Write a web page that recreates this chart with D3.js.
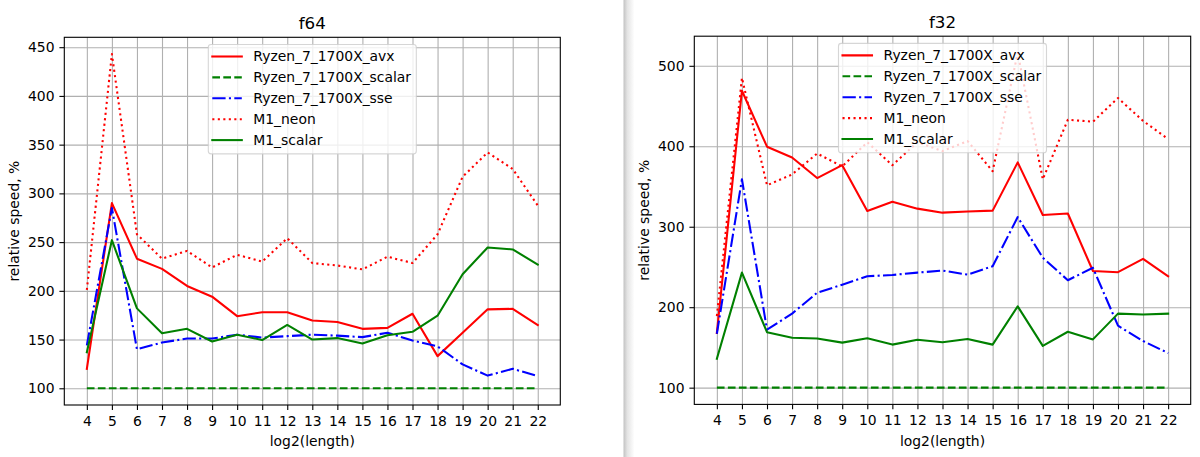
<!DOCTYPE html>
<html>
<head>
<meta charset="utf-8">
<script src="https://cdn.jsdelivr.net/npm/d3@7"></script>
<style>
body { margin: 0; background: #fff; }
svg text { font-family: "DejaVu Sans", sans-serif; fill: #000; }
</style>
</head>
<body>
<svg id="chart" width="1200" height="457"></svg>
<script>
// x values: log2 of the transform length
var lengths = [4, 5, 6, 7, 8, 9, 10, 11, 12, 13, 14, 15, 16, 17, 18, 19, 20, 21, 22];
var seriesNames = ["Ryzen_7_1700X_avx", "Ryzen_7_1700X_scalar", "Ryzen_7_1700X_sse", "M1_neon", "M1_scalar"];

// f64, relative speed %
var f64_avx    = [120, 290, 233, 222.5, 205, 194, 174, 178, 178, 169.5, 168, 161, 162, 176.5, 133, 157, 181, 181.5, 165];
var f64_scalar = [100, 100, 100, 100, 100, 100, 100, 100, 100, 100, 100, 100, 100, 100, 100, 100, 100, 100, 100];
var f64_sse    = [144, 285, 140, 147, 151, 151, 155, 152, 153.5, 155, 154, 152.5, 157, 149, 143, 124.5, 113, 120, 112.5];
var f64_neon   = [201, 443, 258, 233, 241, 224, 237, 230, 254, 228.5, 226, 222, 235, 228.5, 258, 317, 342, 325, 287.5];
var f64_m1     = [137, 252, 182, 156.5, 161, 148, 155, 149.5, 165, 150, 151.5, 146, 154.5, 158, 174.5, 217, 244.5, 242.5, 227];

// f32, relative speed %
var f32_avx    = [168, 469, 399.5, 386, 360.5, 376.5, 319.5, 331, 322.5, 317.5, 319, 320, 380, 314.5, 316.5, 245, 243.5, 260, 238.5];
var f32_scalar = [100, 100, 100, 100, 100, 100, 100, 100, 100, 100, 100, 100, 100, 100, 100, 100, 100, 100, 100];
var f32_sse    = [167, 359, 172, 192, 218, 228, 238.5, 240, 243, 245.5, 240.5, 251, 312, 261.5, 233.5, 249, 177, 158, 143];
var f32_neon   = [189, 485, 351.5, 365, 391, 375, 405, 376.5, 405, 394, 406.5, 369, 516, 359, 433, 430.5, 460, 431.5, 409];
var f32_m1     = [136, 243, 169, 162, 161, 156, 161.5, 153.5, 159.5, 156.5, 160.5, 153.5, 201, 152, 169.5, 160, 192, 191, 192];

var f64Ticks = [100, 150, 200, 250, 300, 350, 400, 450];
var f32Ticks = [100, 200, 300, 400, 500];

var styles = [
  {color: "#ff0000", dash: null},
  {color: "#008000", dash: "7.7,3.3"},
  {color: "#0000ff", dash: "13.3,3.3,2.1,3.3"},
  {color: "#ff0000", dash: "2.1,3.4"},
  {color: "#008000", dash: null}
];

var svg = d3.select("#chart");

// shadow between the two screenshots
var grad = svg.append("defs").append("linearGradient")
    .attr("id", "edge").attr("x1", "0").attr("x2", "1").attr("y1", "0").attr("y2", "0");
grad.append("stop").attr("offset", "0").attr("stop-color", "#c2c2c2");
grad.append("stop").attr("offset", "0.35").attr("stop-color", "#e4e4e4");
grad.append("stop").attr("offset", "1").attr("stop-color", "#ffffff");
svg.append("rect")
    .attr("x", 623.5).attr("y", 0).attr("width", 11).attr("height", 457)
    .attr("fill", "url(#edge)");

function drawPanel(title, series, ticks, left, right, top, bottom) {
  var g = svg.append("g");
  var all = d3.merge(series);
  var lo = d3.min(all), hi = d3.max(all), pad = (hi - lo) * 0.05;

  var x = d3.scaleLinear().domain([3.1, 22.9]).range([left, right]);
  var y = d3.scaleLinear().domain([lo - pad, hi + pad]).range([bottom, top]);

  // grid
  g.append("g")
      .attr("transform", "translate(0," + bottom + ")")
      .call(d3.axisBottom(x).tickValues(lengths).tickSize(-(bottom - top)).tickFormat(""))
      .call(function (a) { a.select(".domain").remove(); })
      .selectAll("line").attr("stroke", "#b0b0b0").attr("stroke-width", 1.1);
  g.append("g")
      .attr("transform", "translate(" + left + ",0)")
      .call(d3.axisLeft(y).tickValues(ticks).tickSize(-(right - left)).tickFormat(""))
      .call(function (a) { a.select(".domain").remove(); })
      .selectAll("line").attr("stroke", "#b0b0b0").attr("stroke-width", 1.1);

  var line = d3.line()
      .x(function (d, i) { return x(lengths[i]); })
      .y(function (d) { return y(d); });

  series.forEach(function (s, k) {
    g.append("path")
        .attr("d", line(s))
        .attr("fill", "none")
        .attr("stroke", styles[k].color)
        .attr("stroke-width", 2.08)
        .attr("stroke-linejoin", "round")
        .attr("stroke-linecap", styles[k].dash ? "butt" : "square")
        .attr("stroke-dasharray", styles[k].dash);
  });

  // axes
  var xa = g.append("g")
      .attr("transform", "translate(0," + bottom + ")")
      .call(d3.axisBottom(x).tickValues(lengths).tickSize(4.9).tickPadding(6.3).tickSizeOuter(0));
  var ya = g.append("g")
      .attr("transform", "translate(" + left + ",0)")
      .call(d3.axisLeft(y).tickValues(ticks).tickSize(4.9).tickPadding(4.9).tickSizeOuter(0));
  [xa, ya].forEach(function (a) {
    a.select(".domain").remove();
    a.attr("font-size", 13.9).attr("font-family", "DejaVu Sans");
    a.selectAll("line").attr("stroke", "#000").attr("stroke-width", 1.1);
  });

  g.append("rect")
      .attr("x", left).attr("y", top)
      .attr("width", right - left).attr("height", bottom - top)
      .attr("fill", "none").attr("stroke", "#000").attr("stroke-width", 1.1);

  var cx = (left + right) / 2;
  g.append("text").attr("x", cx).attr("y", top - 8)
      .attr("text-anchor", "middle").attr("font-size", 16.7).text(title);
  g.append("text").attr("x", cx).attr("y", 445.5)
      .attr("text-anchor", "middle").attr("font-size", 13.9).text("log2(length)");
  g.append("text")
      .attr("transform", "translate(" + (left - 45.5) + "," + ((top + bottom) / 2) + ") rotate(-90)")
      .attr("text-anchor", "middle").attr("font-size", 13.9).text("relative speed, %");

  // legend, upper center
  var lw = 208, lx = cx - lw / 2, ly = top + 7.2;
  var leg = g.append("g");
  leg.append("rect")
      .attr("x", lx).attr("y", ly).attr("width", lw).attr("height", 109.4)
      .attr("rx", 2.8)
      .attr("fill", "#fff").attr("fill-opacity", 0.8)
      .attr("stroke", "#cccccc").attr("stroke-opacity", 0.8).attr("stroke-width", 1.1);
  seriesNames.forEach(function (name, k) {
    var ry = ly + 12 + k * 20.9;
    leg.append("line")
        .attr("x1", lx + 4).attr("x2", lx + 33.5)
        .attr("y1", ry).attr("y2", ry)
        .attr("stroke", styles[k].color)
        .attr("stroke-width", 2.08)
        .attr("stroke-linecap", styles[k].dash ? "butt" : "square")
        .attr("stroke-dasharray", styles[k].dash);
    leg.append("text")
        .attr("x", lx + 45).attr("y", ry + 4.8)
        .attr("font-size", 13.9).text(name);
  });
}

drawPanel("f64", [f64_avx, f64_scalar, f64_sse, f64_neon, f64_m1], f64Ticks, 64.3, 560.3, 37.3, 405);
drawPanel("f32", [f32_avx, f32_scalar, f32_sse, f32_neon, f32_m1], f32Ticks, 694.3, 1190.7, 36.2, 404.4);
</script>
</body>
</html>
